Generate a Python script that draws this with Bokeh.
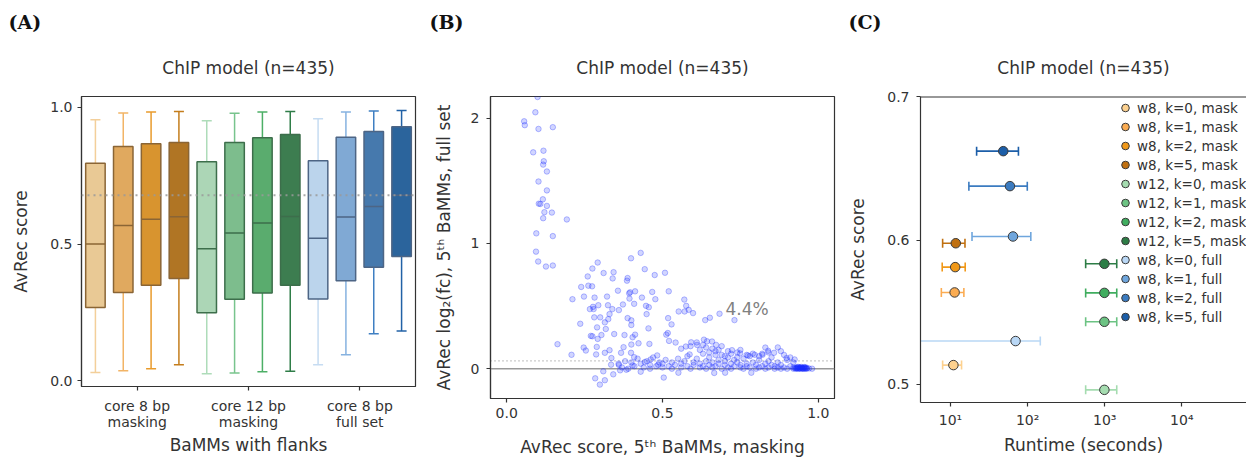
from bokeh.plotting import figure
from bokeh.layouts import row, column
from bokeh.models import FixedTicker, Span, Label, Title, Legend, LegendItem, PrintfTickFormatter
from bokeh.embed import file_html
from bokeh.resources import INLINE

FONT = "DejaVu Sans"
TXT = "#333333"

# ---------------- Panel A data ----------------
group_ticks = [1.5, 5.5, 9.5]
group_labels = ["core 8 bp\nmasking", "core 12 bp\nmasking", "core 8 bp\nfull set"]
box_hi = [0.955, 0.980, 0.983, 0.985, 0.951, 0.979, 0.983, 0.985, 0.959, 0.983, 0.987, 0.989]
box_q3 = [0.796, 0.857, 0.867, 0.872, 0.801, 0.872, 0.889, 0.901, 0.805, 0.891, 0.912, 0.929]
box_med = [0.500, 0.568, 0.591, 0.600, 0.483, 0.541, 0.577, 0.601, 0.521, 0.599, 0.638, 0.679]
box_q1 = [0.268, 0.323, 0.349, 0.374, 0.249, 0.298, 0.321, 0.349, 0.299, 0.366, 0.415, 0.455]
box_lo = [0.030, 0.037, 0.044, 0.059, 0.026, 0.028, 0.033, 0.035, 0.059, 0.095, 0.172, 0.182]
box_fill = ["#e9c995", "#e0a95f", "#d8942f", "#b07524",
            "#acd6b6", "#7dbd8d", "#5aac6e", "#3d7d50",
            "#bbd4ec", "#80a9d4", "#4679ad", "#2b649c"]
box_whisk = ["#f3cf9a", "#f2b466", "#e99b2c", "#c47d1c",
             "#aedcb9", "#78c48d", "#4caf66", "#2f7d48",
             "#c6dcf2", "#86b2e0", "#3f7fc2", "#2262a6"]
box_edge = ["#8a6535"] * 4 + ["#3d6e4b"] * 4 + ["#4d6585"] * 4
ref_line_a = 0.679

# ---------------- Panel B data ----------------
scat_x = [
    0.099, 0.056, 0.058, 0.092, 0.102, 0.148, 0.085, 0.118, 0.119, 0.117, 0.129, 0.102, 0.129,
    0.116, 0.103, 0.108, 0.129, 0.121, 0.145, 0.117, 0.193, 0.095, 0.148, 0.094, 0.101, 0.126, 0.148,
    0.163, 0.208, 0.211, 0.236, 0.239, 0.248, 0.247, 0.254, 0.262, 0.260, 0.267, 0.277, 0.274, 0.275,
    0.279, 0.282, 0.281, 0.270, 0.275, 0.292, 0.311, 0.290, 0.294, 0.300, 0.304, 0.289, 0.287, 0.292,
    0.315, 0.318, 0.322, 0.325, 0.326, 0.330, 0.330, 0.335, 0.336, 0.339, 0.340, 0.343, 0.345, 0.342,
    0.315, 0.357, 0.359, 0.360, 0.364, 0.367, 0.373, 0.378, 0.375, 0.384, 0.386, 0.388, 0.388, 0.393,
    0.394, 0.396, 0.399, 0.400, 0.400, 0.404, 0.400, 0.399, 0.409, 0.412, 0.412, 0.409, 0.404, 0.423,
    0.430, 0.434, 0.443, 0.447, 0.449, 0.456, 0.455, 0.458, 0.467, 0.475, 0.477, 0.430, 0.443, 0.462,
    0.483, 0.486, 0.504, 0.508, 0.512, 0.517, 0.518, 0.520, 0.521, 0.529, 0.542, 0.552, 0.551, 0.570,
    0.571, 0.576, 0.584, 0.598, 0.575, 0.587, 0.592, 0.611, 0.637, 0.652, 0.683, 0.731, 0.633, 0.643,
    0.659, 0.672, 0.723, 0.830, 0.839, 0.858, 0.821, 0.796, 0.774, 0.749, 0.898, 0.924,
    0.284, 0.299, 0.315, 0.310, 0.666, 0.701, 0.785,
    0.36, 0.37, 0.38, 0.39, 0.40, 0.41, 0.42, 0.43, 0.44, 0.45, 0.46, 0.46, 0.47, 0.48, 0.49, 0.50,
    0.50, 0.51, 0.52, 0.53, 0.53, 0.54, 0.55, 0.56, 0.56, 0.57, 0.58, 0.58, 0.59, 0.60, 0.60, 0.61,
    0.62, 0.62, 0.63, 0.63, 0.64, 0.64, 0.65, 0.65, 0.66, 0.66, 0.67, 0.67, 0.68, 0.68, 0.69, 0.69,
    0.70, 0.70, 0.71, 0.71, 0.72, 0.72, 0.73, 0.73, 0.74, 0.74, 0.75, 0.75, 0.76, 0.76, 0.77, 0.77,
    0.78, 0.78, 0.79, 0.80, 0.80, 0.81, 0.81, 0.82, 0.82, 0.83, 0.83, 0.84, 0.84, 0.85, 0.85, 0.86,
    0.86, 0.87, 0.87, 0.88, 0.88, 0.89, 0.90, 0.90, 0.91, 0.92, 0.92,
    0.56, 0.59, 0.61, 0.62, 0.63, 0.64, 0.65, 0.66, 0.67, 0.68, 0.69, 0.70, 0.71, 0.72, 0.74, 0.75,
    0.77, 0.79, 0.81, 0.84, 0.87, 0.89, 0.91, 0.88,
    0.925, 0.928, 0.930, 0.932, 0.934, 0.936, 0.938, 0.940, 0.942, 0.944, 0.946, 0.948, 0.950, 0.952,
    0.954, 0.956, 0.958, 0.960, 0.962, 0.964, 0.935, 0.945, 0.955, 0.940, 0.950, 0.930, 0.960, 0.970,
    0.980, 0.920,
]
scat_y = [
    2.170, 1.976, 1.945, 2.048, 1.915, 1.929, 1.728, 1.741, 1.657, 1.630, 1.575, 1.495, 1.424,
    1.353, 1.318, 1.316, 1.300, 1.250, 1.247, 1.202, 1.192, 1.081, 1.059, 0.935, 0.856, 0.816, 0.824,
    0.196, 0.111, 0.555, 0.359, 0.653, 0.576, 0.169, 0.145, 0.663, 0.737, 0.476, 0.494, 0.658, 0.800,
    0.476, 0.568, 0.410, 0.262, 0.259, 0.848, 0.764, 0.330, 0.507, 0.410, 0.269, 0.174, 0.114, 0.238,
    0.370, 0.317, 0.576, 0.507, 0.396, 0.436, 0.148, 0.032, 0.085, 0.476, 0.721, 0.771, 0.277, -0.045,
    0.127, 0.623, 0.040, 0.468, -0.013, 0.127, 0.513, 0.269, 0.172, -0.008, 0.703, 0.724, 0.404, 0.602,
    0.560, 0.610, 0.882, 0.386, 0.349, 0.251, 0.193, 0.127, 0.518, 0.272, 0.618, 0.092, 0.026, 0.203,
    0.925, 0.568, 0.795, 0.502, 0.436, 0.491, 0.322, 0.198, 0.613, 0.748, 0.555, -0.024, 0.053, 0.074,
    0.106, 0.032, -0.071, 0.766, 0.272, 0.285, 0.404, 0.618, 0.222, 0.354, 0.209, 0.457, -0.032, 0.552,
    0.457, 0.502, 0.470, 0.444, 0.177, 0.114, 0.211, 0.190, 0.388, 0.407, 0.439, 0.388, 0.232, 0.219,
    0.217, 0.190, 0.148, 0.169, 0.143, 0.127, 0.111, 0.111, 0.106, 0.122, 0.085, 0.074,
    -0.077, -0.127, -0.092, -0.021, -0.034, -0.032, -0.032,
    0.03, 0.01, 0.06, 0.00, 0.05, 0.02, 0.08, 0.04, 0.01, 0.06, 0.03, 0.00, 0.09, 0.02, 0.05, 0.01,
    0.04, 0.07, 0.02, 0.00, 0.05, 0.03, 0.08, 0.01, 0.04, 0.06, 0.02, 0.10, 0.00, 0.05, 0.03, 0.08,
    0.01, 0.04, 0.12, 0.02, 0.06, 0.00, 0.03, 0.09, 0.05, 0.01, 0.14, 0.02, 0.07, 0.04, 0.00, 0.11,
    0.03, 0.06, 0.01, 0.09, 0.04, 0.00, 0.07, 0.02, 0.05, 0.13, 0.01, 0.03, 0.08, 0.00, 0.04, 0.02,
    0.10, 0.01, 0.05, 0.00, 0.03, 0.07, 0.01, 0.02, 0.12, 0.04, 0.00, 0.06, 0.01, 0.03, 0.09, 0.00,
    0.02, 0.05, 0.01, 0.00, 0.03, 0.01, 0.07, 0.00, 0.02, 0.05, 0.00,
    0.16, 0.18, 0.21, 0.15, 0.19, 0.17, 0.13, 0.16, 0.11, 0.15, 0.18, 0.10, 0.14, 0.12, 0.09, 0.15,
    0.11, 0.12, 0.10, 0.13, 0.17, 0.11, 0.09, 0.14,
    0.005, 0.000, 0.010, 0.003, 0.008, 0.000, 0.012, 0.004, 0.007, 0.001, 0.010, 0.003, 0.006, 0.000,
    0.009, 0.002, 0.005, 0.011, 0.001, 0.004, 0.015, 0.014, 0.013, 0.000, 0.000, 0.002, 0.000, 0.002,
    0.000, 0.010,
]
dotted_b = 0.063
pct_text = "4.4%"
pct_x, pct_y = 0.702, 0.476

# ---------------- Panel C data ----------------
c_labels = ["w8, k=0, mask", "w8, k=1, mask", "w8, k=2, mask", "w8, k=5, mask",
            "w12, k=0, mask", "w12, k=1, mask", "w12, k=2, mask", "w12, k=5, mask",
            "w8, k=0, full", "w8, k=1, full", "w8, k=2, full", "w8, k=5, full"]
c_score = [0.5133, 0.5638, 0.5814, 0.5980, 0.4961, 0.5434, 0.5635, 0.5837, 0.5300, 0.6027, 0.6377, 0.6620]
c_runtime = [10.9, 11.3, 11.5, 11.7, 990, 990, 990, 990, 69.8, 64.6, 59.0, 48.3]
c_rt_lo = [7.9, 7.6, 7.8, 7.9, 566, 566, 566, 566, 2.0, 19.0, 17.3, 21.8]
c_rt_hi = [13.9, 14.9, 15.5, 15.4, 1432, 1432, 1432, 1432, 146, 110, 99, 76]
c_colors = ["#fdd18f", "#fbac52", "#f09818", "#c07010",
            "#a5dcb0", "#6cc383", "#40ad5f", "#2d7d46",
            "#b9d7f5", "#6fa6dd", "#3b7bc0", "#1c5ea8"]
c_xticks = [10, 100, 1000, 10000]
c_xtick_labels = ["10¹", "10²", "10³", "10⁴"]

TITLE = "ChIP model (n=435)"
H = 459
TOP = 96


def style_axes(p):
    for ax in p.xaxis + p.yaxis:
        ax.axis_line_color = TXT
        ax.axis_line_width = 1.2
        ax.major_tick_line_color = TXT
        ax.major_tick_line_width = 1.2
        ax.major_tick_out = 4
        ax.major_tick_in = 0
        ax.minor_tick_line_color = None
        ax.major_label_text_font = FONT
        ax.major_label_text_font_size = "14px"
        ax.major_label_text_color = TXT
        ax.axis_label_text_font = FONT
        ax.axis_label_text_font_size = "17px"
        ax.axis_label_text_font_style = "normal"
        ax.axis_label_text_color = TXT
    p.xgrid.grid_line_color = None
    p.ygrid.grid_line_color = None


def add_heads(p, letter, offset):
    # outer title: panel letter
    p.title.text = letter
    p.title.align = "left"
    p.title.offset = offset
    p.title.standoff = 8
    p.title.text_font = "DejaVu Serif"
    p.title.text_font_size = "19px"
    p.title.text_font_style = "bold"
    p.title.text_color = "#111111"
    # inner title: chart title
    p.add_layout(Title(text=TITLE, align="center", text_font=FONT, text_font_size="17px",
                       text_font_style="normal", text_color=TXT, standoff=38), "above")


# ---------------- Panel A ----------------
pa = figure(width=430, height=H, x_range=(-0.5, 11.5), y_range=(-0.021, 1.04),
            output_backend="svg", toolbar_location=None,
            min_border_left=81, min_border_right=15, min_border_top=TOP, min_border_bottom=73)
xs = list(range(len(box_q1)))
half = 0.35
cap = 0.18
pa.segment(x0=xs, y0=box_lo, x1=xs, y1=box_q1, line_color=box_whisk, line_width=1.5)
pa.segment(x0=xs, y0=box_q3, x1=xs, y1=box_hi, line_color=box_whisk, line_width=1.5)
pa.segment(x0=[x - cap for x in xs], y0=box_lo, x1=[x + cap for x in xs], y1=box_lo,
           line_color=box_whisk, line_width=1.5)
pa.segment(x0=[x - cap for x in xs], y0=box_hi, x1=[x + cap for x in xs], y1=box_hi,
           line_color=box_whisk, line_width=1.5)
pa.vbar(x=xs, bottom=box_q1, top=box_q3, width=2 * half, fill_color=box_fill,
        line_color=box_edge, line_width=1.5)
pa.segment(x0=[x - half for x in xs], y0=box_med, x1=[x + half for x in xs], y1=box_med,
           line_color=box_edge, line_width=1.5)
pa.add_layout(Span(location=ref_line_a, dimension="width", line_color="#9a9a9a",
                   line_width=2, line_dash="2 4", line_alpha=0.85))
pa.xaxis.ticker = FixedTicker(ticks=group_ticks)
pa.xaxis.major_label_overrides = {t: l for t, l in zip(group_ticks, group_labels)}
pa.yaxis.ticker = FixedTicker(ticks=[0.0, 0.5, 1.0])
pa.yaxis.formatter = PrintfTickFormatter(format="%.1f")
pa.xaxis.axis_label = "BaMMs with flanks"
pa.yaxis.axis_label = "AvRec score"
style_axes(pa)
pa.xaxis.major_label_text_line_height = 1.0
pa.xaxis.major_label_standoff = 7
pa.xaxis.axis_label_standoff = 2
pa.yaxis.major_label_standoff = 5
pa.yaxis.axis_label_standoff = 16
pa.outline_line_color = TXT
pa.outline_line_width = 1.2
pa.outline_line_alpha = 1
add_heads(pa, "(A)", -73)

# ---------------- Panel B ----------------
pb = figure(width=415, height=H, x_range=(-0.052, 1.052), y_range=(-0.238, 2.174),
            output_backend="svg", toolbar_location=None,
            min_border_left=59, min_border_right=11, min_border_top=TOP, min_border_bottom=59)
pb.add_layout(Span(location=0, dimension="width", line_color="#999999", line_width=1.5,
                   level="underlay"))
pb.add_layout(Span(location=dotted_b, dimension="width", line_color="#999999", line_width=1.2,
                   line_dash="1 3", level="underlay"))
pb.scatter(scat_x, scat_y, size=5.5, fill_color="#1a2cff", fill_alpha=0.2,
           line_color="#1a2cff", line_alpha=0.3, line_width=1)
pb.add_layout(Label(x=pct_x, y=pct_y, text=pct_text, text_font=FONT, text_font_size="17px",
                    text_color="#808080", text_baseline="middle", text_align="left"))
pb.xaxis.ticker = FixedTicker(ticks=[0.0, 0.5, 1.0])
pb.xaxis.formatter = PrintfTickFormatter(format="%.1f")
pb.yaxis.ticker = FixedTicker(ticks=[0, 1, 2])
pb.xaxis.axis_label = "AvRec score, 5ᵗʰ BaMMs, masking"
pb.yaxis.axis_label = "AvRec log₂(fc), 5ᵗʰ BaMMs, full set"
style_axes(pb)
pb.xaxis.major_label_standoff = 5
pb.xaxis.axis_label_standoff = 16
pb.yaxis.major_label_standoff = 7
pb.yaxis.axis_label_standoff = 14
pb.outline_line_color = TXT
pb.outline_line_width = 1.2
pb.outline_line_alpha = 1
add_heads(pb, "(B)", -61)

# ---------------- Panel C ----------------
pc = figure(width=401, height=H, x_axis_type="log", x_range=(4.08, 69000), y_range=(0.4873, 0.7),
            output_backend="svg", toolbar_location=None,
            min_border_left=75, min_border_right=0, min_border_top=TOP, min_border_bottom=57)
pc.outline_line_color = None
pc.add_layout(Span(location=0.7, dimension="width", line_color=TXT, line_width=2.2))
items = []
for i in range(len(c_labels)):
    col = c_colors[i]
    pc.segment(x0=[c_rt_lo[i]], y0=[c_score[i]], x1=[c_rt_hi[i]], y1=[c_score[i]],
               line_color=col, line_width=1.6)
    pc.scatter(x=[c_rt_lo[i], c_rt_hi[i]], y=[c_score[i], c_score[i]], marker="dash",
               angle=1.5708, size=9, line_color=col, line_width=1.6)
    r = pc.scatter(x=[c_runtime[i]], y=[c_score[i]], size=9.5, fill_color=col,
                   line_color="#3a3a3a", line_width=1)
    items.append(LegendItem(label=c_labels[i], renderers=[r]))
leg = Legend(items=items, location=(195, 76), border_line_color=None,
             background_fill_alpha=0, label_text_font=FONT, label_text_font_size="13.5px",
             label_text_color=TXT, glyph_width=20, glyph_height=19, label_height=19,
             spacing=0, label_standoff=2, padding=0, margin=0)
pc.add_layout(leg)
pc.xaxis.ticker = FixedTicker(ticks=c_xticks)
pc.xaxis.major_label_overrides = {t: l for t, l in zip(c_xticks, c_xtick_labels)}
pc.yaxis.ticker = FixedTicker(ticks=[0.5, 0.6, 0.7])
pc.xaxis.axis_label = "Runtime (seconds)"
pc.yaxis.axis_label = "AvRec score"
style_axes(pc)
pc.xaxis.major_label_standoff = 5
pc.xaxis.axis_label_standoff = 4
pc.yaxis.major_label_standoff = 7
pc.yaxis.axis_label_standoff = 16
add_heads(pc, "(C)", -72)

layout = row(column(pa), column(pb), column(pc), spacing=0)
open("out.html", "w").write(file_html(layout, INLINE))
